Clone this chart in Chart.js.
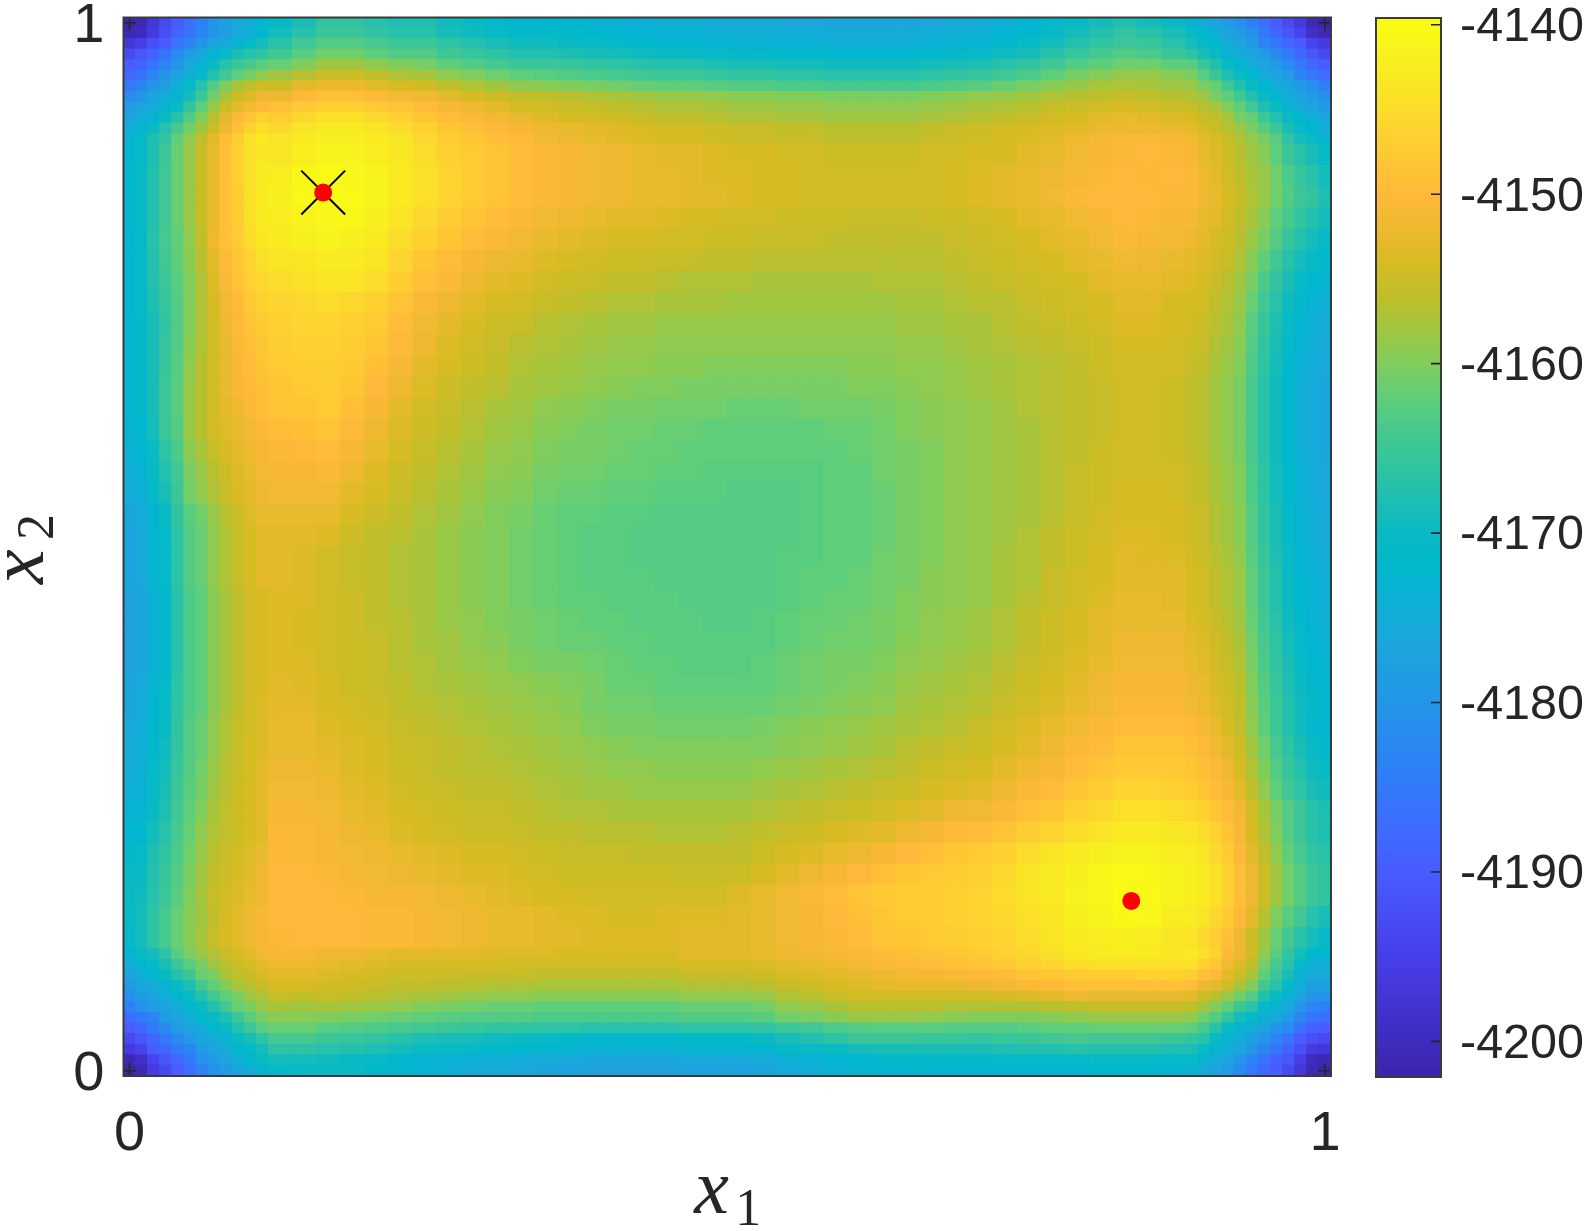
<!DOCTYPE html>
<html><head><meta charset="utf-8"><title>x1 x2 surface</title>
<style>html,body{margin:0;padding:0;background:#fff}#wrap{position:relative;width:1589px;height:1231px;overflow:hidden}canvas{position:absolute;left:0;top:0}#cb{left:1345px}</style>
<script src="https://cdn.jsdelivr.net/npm/chart.js@4"></script></head><body><div id="wrap"><canvas id="main" width="1589" height="1231"></canvas><canvas id="cb" width="244" height="1231"></canvas></div>
<script>
// Surface values, as half-unit depth below zTop.
// Matrix is symmetric in x1/x2: row dNN holds x2 group NN, columns x1 group 0..NN.
const zTop=-4140, zStep=0.5;
const d00=[124];
const d01=[122,118];
const d02=[112,108,100];
const d03=[106,102,96,90];
const d04=[100,96,90,84,78];
const d05=[94,90,86,78,74,70];
const d06=[88,82,78,74,70,64,60];
const d07=[82,78,74,70,64,60,55,49];
const d08=[78,74,70,66,60,56,49,44,40];
const d09=[74,68,64,60,55,50,43,41,35,32];
const d10=[70,64,62,57,50,45,41,36,33,31,28];
const d11=[66,60,58,53,45,41,37,34,31,28,26,23];
const d12=[62,58,53,48,43,39,35,31,28,26,24,22,21];
const d13=[61,58,53,48,43,39,36,32,28,26,24,22,20,20];
const d14=[60,59,54,50,45,40,35,31,29,27,25,24,20,20,20];
const d15=[61,60,55,51,46,41,36,32,30,28,26,24,20,20,21,22];
const d16=[63,62,56,52,47,42,37,33,31,29,27,25,21,21,22,23,24];
const d17=[65,64,58,54,48,43,38,34,32,30,28,26,21,21,22,24,25,27];
const d18=[67,66,60,56,49,44,40,35,32,30,28,26,22,22,23,25,26,28,29];
const d19=[68,67,61,57,50,45,41,36,33,30,28,26,23,23,24,26,27,29,30,31];
const d20=[70,68,62,58,51,46,42,37,33,31,28,26,24,24,25,27,28,30,31,32,33];
const d21=[71,69,63,59,52,46,43,38,34,31,28,27,25,25,26,27,28,30,31,32,33,34];
const d22=[72,70,64,60,52,46,43,38,34,31,29,27,25,25,27,28,29,31,32,33,34,35,36];
const d23=[73,71,65,61,53,47,44,39,35,32,29,27,26,26,28,29,30,32,33,34,35,36,37,38];
const d24=[74,72,66,62,53,47,44,39,35,32,29,28,26,27,28,30,31,32,34,35,36,37,38,39,40];
const d25=[75,73,67,63,54,47,44,39,35,32,29,28,27,27,29,30,31,33,34,36,37,38,40,41,41,42];
const d26=[75,73,67,63,54,47,44,39,35,32,29,28,27,28,29,30,31,33,35,36,38,39,41,42,43,43,44];
const d27=[75,73,67,63,54,47,44,39,35,32,29,28,27,28,29,30,32,33,35,37,38,40,41,42,43,44,44,45];
const d28=[75,73,67,63,54,47,44,39,35,32,29,28,27,27,29,30,32,34,35,37,39,40,42,43,44,44,45,45,45];
const d29=[74,72,66,62,53,46,43,38,34,31,28,26,26,27,29,31,32,34,35,37,39,40,42,43,44,45,45,45,46,46];
const d30=[74,72,66,62,53,46,43,38,34,31,28,26,26,27,29,31,32,34,35,37,39,40,42,43,44,45,45,46,46,46,46];
const d31=[74,72,66,62,53,46,43,38,34,31,28,26,26,26,27,30,32,33,35,37,39,40,42,43,44,45,45,46,46,46,46,46];
const d32=[73,71,65,60,52,45,42,37,33,30,27,25,25,25,25,28,30,32,34,36,38,40,41,43,44,44,45,45,46,46,46,46,46];
const d33=[70,68,62,57,50,42,38,34,31,28,26,24,23,23,23,26,28,31,33,35,37,39,40,42,43,43,44,44,45,45,45,46,46,46];
const d34=[69,67,61,55,49,41,37,33,30,27,25,23,22,22,21,24,27,30,32,34,36,38,39,41,42,42,43,43,44,44,45,45,45,45,45];
const d35=[67,65,60,53,47,39,35,31,28,26,24,22,21,20,19,22,25,28,31,33,35,37,38,40,41,41,42,43,43,44,44,44,44,44,44,44];
const d36=[66,64,58,50,46,37,33,29,27,25,23,21,19,18,17,20,24,27,30,32,34,36,37,39,40,41,42,42,43,43,44,44,44,44,44,43,43];
const d37=[65,63,57,50,45,37,33,29,26,24,21,19,17,16,15,18,22,26,29,31,33,35,36,38,39,40,41,41,42,42,42,43,43,43,42,42,42,41];
const d38=[65,63,57,50,45,37,33,29,25,22,20,18,16,15,14,16,20,24,27,30,32,33,35,36,37,38,39,40,40,41,41,41,41,41,41,41,40,40,39];
const d39=[65,63,57,51,45,38,33,29,25,22,19,17,15,14,14,15,18,22,26,28,30,32,34,35,36,37,38,38,39,39,40,40,40,40,40,40,39,39,38,38];
const d40=[65,63,57,51,46,39,34,29,25,21,18,16,14,13,13,14,16,20,24,27,29,31,33,34,35,36,37,37,38,38,38,38,38,38,38,38,38,38,37,37,36];
const d41=[65,63,57,52,46,40,34,29,24,20,17,15,13,12,12,13,15,19,23,26,28,30,31,33,34,35,36,36,37,37,37,37,37,37,37,37,37,37,36,36,35,35];
const d42=[65,62,56,51,46,40,34,28,23,19,15,13,12,11,10,11,13,17,21,24,26,28,29,31,32,33,34,34,35,35,35,36,36,36,36,36,36,36,35,35,34,33,33];
const d43=[65,62,55,50,45,40,34,27,21,17,13,11,10,9,8,8,10,14,18,21,24,26,27,29,30,31,32,32,33,34,34,34,35,35,35,35,35,34,34,34,33,32,31,30];
const d44=[65,62,55,49,44,39,33,26,20,16,12,9,8,7,6,6,8,12,16,19,22,24,25,27,28,29,30,30,31,31,32,32,33,33,33,33,33,33,33,33,32,31,30,29,28];
const d45=[65,62,54,48,44,38,32,24,18,15,10,7,6,4,3,4,6,10,13,16,19,21,23,25,26,27,28,28,29,29,30,30,31,31,31,32,32,32,32,32,31,30,29,28,26,25];
const d46=[64,61,55,49,43,37,31,25,18,14,9,6,5,3,2,2,4,8,11,14,17,19,21,23,24,25,26,26,27,28,28,29,29,30,30,30,31,31,31,30,30,29,28,26,25,23,22];
const d47=[64,61,55,49,43,37,31,25,18,14,9,6,4,1,0,1,3,6,9,12,15,17,19,21,22,23,24,25,25,26,26,27,28,28,29,29,29,29,29,29,28,27,26,25,23,21,20,20];
const d48=[64,61,55,49,43,37,31,25,18,13,9,6,5,2,1,2,3,6,9,12,15,17,19,21,22,23,24,25,25,26,27,27,28,28,29,29,29,29,29,29,28,27,26,25,24,22,21,20,21];
const d49=[65,62,56,50,43,37,31,25,18,13,9,7,8,5,3,3,5,7,10,13,15,17,19,21,22,23,24,25,26,26,27,28,28,29,29,30,30,30,30,29,29,28,28,26,25,23,22,21,20,21];
const d50=[66,62,56,52,44,38,32,26,19,14,9,6,8,6,4,4,6,8,11,14,16,18,20,23,24,25,26,27,28,28,29,30,30,31,31,32,32,32,32,31,30,29,28,27,26,24,22,21,21,22,23];
const d51=[70,66,60,54,48,42,36,30,24,18,13,9,11,8,6,6,8,10,13,16,18,20,22,24,25,26,27,28,29,29,30,31,31,32,32,33,33,33,33,32,31,30,29,28,27,26,25,24,24,25,26,28];
const d52=[74,70,66,60,54,46,40,33,26,20,16,13,14,11,9,9,11,13,16,19,21,23,25,27,28,29,30,31,32,32,33,34,34,35,35,36,36,36,36,35,34,33,32,31,29,28,26,25,26,27,28,31,32];
const d53=[78,74,70,66,60,52,44,37,30,26,23,20,18,15,13,13,15,17,19,22,24,26,28,29,30,31,32,33,34,34,35,36,36,37,37,38,38,38,38,37,36,35,34,33,31,30,29,28,29,30,31,33,35,40];
const d54=[84,80,74,70,66,58,50,42,35,30,27,24,24,20,18,18,20,22,23,26,28,30,32,32,33,34,35,36,37,37,38,39,39,40,40,41,41,41,41,40,39,38,37,36,34,33,32,31,32,33,34,36,41,44,49];
const d55=[90,86,80,76,68,62,54,46,40,35,32,29,30,26,24,24,26,28,29,32,34,36,38,39,40,41,42,43,44,44,45,46,46,47,47,48,48,48,48,47,46,45,43,41,39,37,35,34,35,36,37,41,43,49,55,60];
const d56=[96,92,86,80,74,68,62,55,49,44,41,38,36,33,30,30,32,34,35,38,40,42,44,45,46,47,48,49,50,50,51,52,52,53,53,54,54,54,54,53,52,51,49,47,44,41,39,37,37,39,41,45,50,56,60,64,70];
const d57=[100,98,92,86,80,72,66,60,54,50,48,45,43,40,36,36,38,40,41,44,46,48,50,50,51,52,53,54,55,55,56,57,57,58,58,59,59,59,59,58,57,56,54,52,49,46,44,42,42,44,45,50,55,60,64,70,74,78];
const d58=[106,102,98,92,84,78,72,66,62,57,54,52,49,45,42,42,44,46,46,49,51,53,55,55,56,57,58,59,60,60,61,62,62,63,63,64,64,64,64,63,62,61,59,57,54,51,48,46,47,50,53,57,60,66,70,74,78,84,90];
const d59=[114,110,104,100,92,86,80,74,70,66,62,58,54,49,46,46,48,50,50,53,55,57,59,59,60,61,62,63,64,64,65,66,66,67,67,68,68,68,68,67,66,65,63,61,58,55,52,50,51,54,58,62,64,70,74,78,86,90,96,100];
const d60=[122,120,112,104,98,92,86,80,76,72,68,64,58,54,50,50,52,54,54,57,59,61,63,62,63,64,65,66,67,67,68,69,69,70,70,71,71,71,71,70,69,68,66,64,61,58,55,52,54,57,60,64,68,74,78,82,90,96,102,108,118];
const d61=[124,122,114,106,100,94,88,80,76,72,68,64,62,57,52,52,54,56,56,59,61,63,65,64,65,66,67,68,69,69,70,71,71,72,72,73,73,73,73,72,71,70,68,66,63,61,58,56,58,61,66,70,74,78,82,88,94,100,106,112,122,124];
const depthRows=[d00,d01,d02,d03,d04,d05,d06,d07,d08,d09,d10,d11,d12,d13,d14,d15,d16,d17,d18,d19,d20,d21,d22,d23,d24,d25,d26,d27,d28,d29,d30,d31,d32,d33,d34,d35,d36,d37,d38,d39,d40,d41,d42,d43,d44,d45,d46,d47,d48,d49,d50,d51,d52,d53,d54,d55,d56,d57,d58,d59,d60,d61];

const optimaX1=[0.162,0.838];
const optimaX2=[0.838,0.162];
const selectedX1=[0.162];
const selectedX2=[0.838];
const axisTicks=[0,1];
const colorbarTicks=[-4200,-4190,-4180,-4170,-4160,-4150,-4140];
const colorbarRange=[-4202.1,-4139.6];

const cmap=[[-4140,249,251,20],[-4142,248,240,30],[-4144,250,228,38],[-4146,253,212,48],[-4148,255,198,52],[-4150,255,185,58],[-4152,238,185,48],[-4154,215,187,35],[-4156,192,190,42],[-4158,160,198,65],[-4160,128,205,92],[-4162,95,206,122],[-4164,70,200,142],[-4166,50,196,160],[-4168,30,190,178],[-4170,10,186,195],[-4172,0,183,205],[-4176,25,168,218],[-4180,35,150,232],[-4184,45,128,246],[-4187,60,110,255],[-4190,72,92,255],[-4195,70,62,232],[-4200,62,44,190],[-4203,58,34,160]];
function colorFor(z){
  if(z>cmap[0][0])return 'rgb('+cmap[0].slice(1).join(',')+')';
  for(let i=0;i<cmap.length-1;i++){const a=cmap[i],b=cmap[i+1];
    if(z>=b[0]){const t=Math.max(0,(a[0]-z)/(a[0]-b[0]));
      return 'rgb('+[1,2,3].map(k=>Math.round(a[k]+(b[k]-a[k])*t)).join(',')+')';}}
  const l=cmap[cmap.length-1];return 'rgb('+l[1]+','+l[2]+','+l[3]+')';
}
const N=100;
const groupOf=c=>c<12?c:c<88?12+Math.floor((c-12)/2):50+(c-88);
const cellZ=(row,col)=>{const a=Math.max(row,col),b=Math.min(row,col);return zTop-depthRows[a][b]*zStep;};
const groups=depthRows.map(()=>[]);
for(let c=0;c<N;c++)groups[groupOf(c)].push(c);
const half=0.5/(N-1);
const cellDatasets=groups.map((cells,g)=>{
  const lo=cells[0]/(N-1)-half, hi=cells[cells.length-1]/(N-1)+half;
  const data=[],colors=[];
  for(let c=0;c<N;c++){data.push({x:c/(N-1),y:[lo,hi]});colors.push(colorFor(cellZ(g,groupOf(c))));}
  return {type:'bar',data,backgroundColor:colors,borderWidth:0,grouped:false,barPercentage:1,categoryPercentage:1,inflateAmount:0.6,order:5};
});
const INK='#262626';
const noPad=s=>{s.paddingTop=0;s.paddingBottom=0;s.paddingLeft=0;s.paddingRight=0;};
const frame={id:'frame',afterDatasetsDraw(ch){
  const {ctx,chartArea:A,scales:{x,y}}=ch;ctx.save();ctx.strokeStyle=INK;ctx.lineWidth=1.6;
  ctx.beginPath();
  axisTicks.forEach(v=>{const p=x.getPixelForValue(v),q=y.getPixelForValue(v);
    ctx.moveTo(p,A.bottom);ctx.lineTo(p,A.bottom-13);ctx.moveTo(p,A.top);ctx.lineTo(p,A.top+13);
    ctx.moveTo(A.left,q);ctx.lineTo(A.left+13,q);ctx.moveTo(A.right,q);ctx.lineTo(A.right-13,q);});
  ctx.stroke();
  ctx.strokeStyle='#3a3a3a';ctx.lineWidth=2;ctx.strokeRect(A.left,A.top,A.right-A.left,A.bottom-A.top);
  ctx.restore();
},afterDraw(ch){
  const {ctx,chartArea:A}=ch;const cx=(A.left+A.right)/2;ctx.save();ctx.fillStyle=INK;ctx.textBaseline='alphabetic';ctx.textAlign='left';
  const it='italic 78px "Liberation Serif"',rm='52px "Liberation Serif"';
  ctx.font=it;ctx.fillText('x',cx-33,1213);ctx.font=rm;ctx.fillText('1',cx+8,1225);
  ctx.translate(43,584);ctx.rotate(-Math.PI/2);ctx.font=it;ctx.fillText('x',0,0);ctx.font=rm;ctx.fillText('2',44,10);
  ctx.restore();
}};
new Chart(document.getElementById('main'),{
  data:{datasets:[
    {type:'scatter',data:optimaX1.map((v,i)=>({x:v,y:optimaX2[i]})),pointStyle:'circle',pointRadius:9,pointBackgroundColor:'#ff0000',pointBorderWidth:0,order:1},
    {type:'scatter',data:selectedX1.map((v,i)=>({x:v,y:selectedX2[i]})),pointStyle:'crossRot',pointRadius:31,pointBorderColor:'#000',pointBorderWidth:2,order:2},
    ...cellDatasets]},
  options:{responsive:false,animation:false,devicePixelRatio:1,events:[],
    layout:{autoPadding:false,padding:{top:17.5,right:258,left:0,bottom:0}},
    plugins:{legend:{display:false},tooltip:{enabled:false}},
    scales:{
      x:{type:'linear',offset:false,min:-half,max:1+half,grid:{display:false,drawTicks:false,offset:false},border:{display:false},
        afterBuildTicks:s=>{s.ticks=axisTicks.map(v=>({value:v}));},
        afterFit:s=>{s.height=155;noPad(s);},
        ticks:{autoSkip:false,maxRotation:0,padding:25,color:INK,font:{family:'"Liberation Sans"',size:56},callback:v=>String(v)}},
      y:{type:'linear',offset:false,min:-half,max:1+half,grid:{display:false,drawTicks:false},border:{display:false},
        afterBuildTicks:s=>{s.ticks=axisTicks.map(v=>({value:v}));},
        afterFit:s=>{s.width=123.5;noPad(s);},
        ticks:{autoSkip:false,padding:19,labelOffset:4,color:INK,font:{family:'"Liberation Sans"',size:56},callback:v=>String(v)}}
    }},plugins:[frame]});

const levels=[];for(let z=colorbarRange[0];z<colorbarRange[1]+0.01;z+=0.25)levels.push(z);
const cbFrame={id:'cbFrame',afterDatasetsDraw(ch){
  const {ctx,chartArea:A,scales:{y}}=ch;ctx.save();ctx.strokeStyle=INK;ctx.lineWidth=1.6;ctx.beginPath();
  colorbarTicks.forEach(v=>{const q=y.getPixelForValue(v);ctx.moveTo(A.right,q);ctx.lineTo(A.right-10,q);});ctx.stroke();
  ctx.strokeStyle='#3a3a3a';ctx.lineWidth=2;ctx.strokeRect(A.left,A.top,A.right-A.left,A.bottom-A.top);ctx.restore();
}};
new Chart(document.getElementById('cb'),{
  type:'bar',
  data:{datasets:[{data:levels.map(z=>({y:z,x:[0,1]})),backgroundColor:levels.map(colorFor),borderWidth:0,barPercentage:1,categoryPercentage:1,grouped:false,inflateAmount:0.6}]},
  options:{indexAxis:'y',responsive:false,animation:false,devicePixelRatio:1,events:[],
    layout:{padding:{top:18,left:31,right:0,bottom:154}},
    plugins:{legend:{display:false},tooltip:{enabled:false}},
    scales:{
      x:{type:'linear',offset:false,min:0,max:1,display:false},
      y:{type:'linear',offset:false,position:'right',min:colorbarRange[0],max:colorbarRange[1],grid:{display:false,drawTicks:false},border:{display:false},
        afterBuildTicks:s=>{s.ticks=colorbarTicks.map(v=>({value:v}));},
        afterFit:s=>{s.width=148;noPad(s);},
        ticks:{autoSkip:false,padding:19,labelOffset:3,color:INK,font:{family:'"Liberation Sans"',size:48.5},callback:v=>String(v)}}
    }},plugins:[cbFrame]});
</script></body></html>
